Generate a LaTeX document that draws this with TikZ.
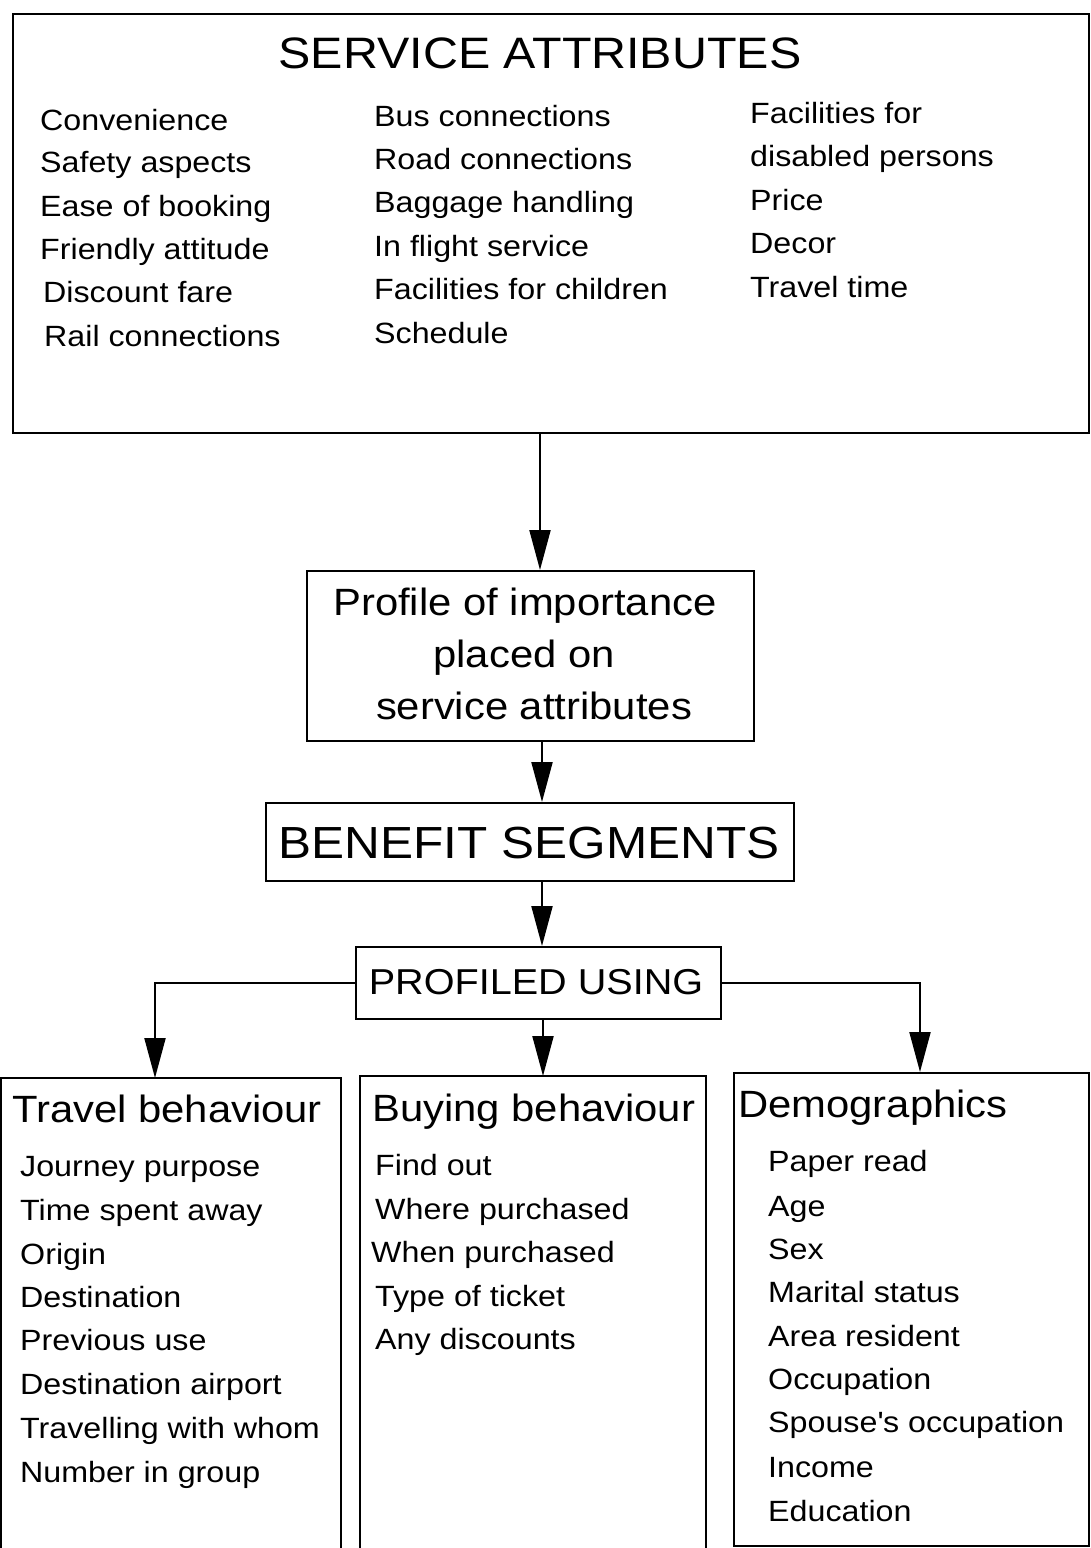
\documentclass[tikz,border=0pt]{standalone}
\usepackage{fontspec}
\setmainfont{Liberation Sans}[FakeStretch=1.1]
\usetikzlibrary{arrows.meta}
\begin{document}
\begin{tikzpicture}[x=1pt,y=-1pt,
  box/.style={draw, line width=2.1pt, inner sep=0pt, anchor=north west},
  openbox/.style={draw=none, inner sep=0pt, anchor=north west},
  itm/.style={font=\fontsize{29.3}{34}\selectfont, anchor=base west, inner sep=0pt},
  hd/.style={font=\fontsize{38}{44}\selectfont, anchor=base west, inner sep=0pt},
  ctr/.style={anchor=base, inner sep=0pt},
  arr/.style={-{Triangle[length=40pt,width=21pt]}, line width=2.1pt},
  edge/.style={line width=2.1pt}]
\useasboundingbox (0,0) rectangle (1091,1548);
\fill[white] (0,0) rectangle (1091,1548);

% ---------- boxes ----------
\node[box, minimum width=1076pt, minimum height=419pt] (sa) at (12,13) {};
\node[box, minimum width=447pt, minimum height=170pt] (pp) at (306,570) {};
\node[box, minimum width=528pt, minimum height=78pt] (bs) at (265,802) {};
\node[box, minimum width=365pt, minimum height=72pt] (pu) at (355,946) {};
\node[openbox, minimum width=340pt, minimum height=480pt] (tb) at (1,1078) {};
\node[openbox, minimum width=346pt, minimum height=480pt] (bb) at (360,1076) {};
\node[box, minimum width=355pt, minimum height=473pt] (dm) at (733,1072) {};
\draw[edge] (tb.south west) -- (tb.north west) -- (tb.north east) -- (tb.south east);
\draw[edge] (bb.south west) -- (bb.north west) -- (bb.north east) -- (bb.south east);

% ---------- top box text ----------
\node[ctr, font=\fontsize{44}{50}\selectfont] (sat) at (540,68) {SERVICE ATTRIBUTES};
\node[itm] (a1) at (40,130) {Convenience};
\node[itm] (a2) at (40,172) {Safety aspects};
\node[itm] (a3) at (40,216) {Ease of booking};
\node[itm] (a4) at (40,259) {Friendly attitude};
\node[itm] (a5) at (43,302) {Discount fare};
\node[itm] (a6) at (44,346) {Rail connections};
\node[itm] (b1) at (374,126) {Bus connections};
\node[itm] (b2) at (374,169) {Road connections};
\node[itm] (b3) at (374,212) {Baggage handling};
\node[itm] (b4) at (374,256) {In flight service};
\node[itm] (b5) at (374,299) {Facilities for children};
\node[itm] (b6) at (374,343) {Schedule};
\node[itm] (c1) at (750,123) {Facilities for};
\node[itm] (c2) at (750,166) {disabled persons};
\node[itm] (c3) at (750,210) {Price};
\node[itm] (c4) at (750,253) {Decor};
\node[itm] (c5) at (750,297) {Travel time};

% ---------- middle boxes text ----------
\node[ctr, font=\fontsize{38}{44}\selectfont] (p1) at (525,615) {Profile of importance};
\node[ctr, font=\fontsize{38}{44}\selectfont] (p2) at (524,667) {placed on};
\node[ctr, font=\fontsize{38}{44}\selectfont] (p3) at (534,719) {service attributes};
\node[ctr, font=\fontsize{45}{50}\selectfont] (bst) at (529,858) {BENEFIT SEGMENTS};
\node[ctr, font=\fontsize{36}{42}\selectfont] (put) at (536,994) {PROFILED USING};

% ---------- lower boxes text ----------
\node[hd] (tbt) at (12,1122) {Travel behaviour};
\node[itm] (t1) at (20,1176) {Journey purpose};
\node[itm] (t2) at (20,1220) {Time spent away};
\node[itm] (t3) at (20,1264) {Origin};
\node[itm] (t4) at (20,1307) {Destination};
\node[itm] (t5) at (20,1350) {Previous use};
\node[itm] (t6) at (20,1394) {Destination airport};
\node[itm] (t7) at (20,1438) {Travelling with whom};
\node[itm] (t8) at (20,1482) {Number in group};

\node[hd] (bbt) at (372,1121) {Buying behaviour};
\node[itm] (u1) at (375,1175) {Find out};
\node[itm] (u2) at (375,1219) {Where purchased};
\node[itm] (u3) at (371,1262) {When purchased};
\node[itm] (u4) at (375,1306) {Type of ticket};
\node[itm] (u5) at (375,1349) {Any discounts};

\node[hd] (dmt) at (738,1117) {Demographics};
\node[itm] (d1) at (768,1171) {Paper read};
\node[itm] (d2) at (768,1216) {Age};
\node[itm] (d3) at (768,1259) {Sex};
\node[itm] (d4) at (768,1302) {Marital status};
\node[itm] (d5) at (768,1346) {Area resident};
\node[itm] (d6) at (768,1389) {Occupation};
\node[itm] (d7) at (768,1432) {Spouse\textquotesingle s occupation};
\node[itm] (d8) at (768,1477) {Income};
\node[itm] (d9) at (768,1521) {Education};

% ---------- connectors ----------
\coordinate (ax1) at (540,0);
\coordinate (ax2) at (542,0);
\coordinate (ax3) at (543,0);
\draw[arr] (sa.south -| ax1) -- (pp.north -| ax1);
\draw[arr] (pp.south -| ax2) -- (bs.north -| ax2);
\draw[arr] (bs.south -| ax2) -- (pu.north -| ax2);
\draw[arr] (pu.south -| ax3) -- (bb.north -| ax3);
\draw[arr] (pu.west) -| ([xshift=154pt]tb.north west);
\draw[arr] (pu.east) -| ([xshift=187pt]dm.north west);
\end{tikzpicture}
\end{document}
